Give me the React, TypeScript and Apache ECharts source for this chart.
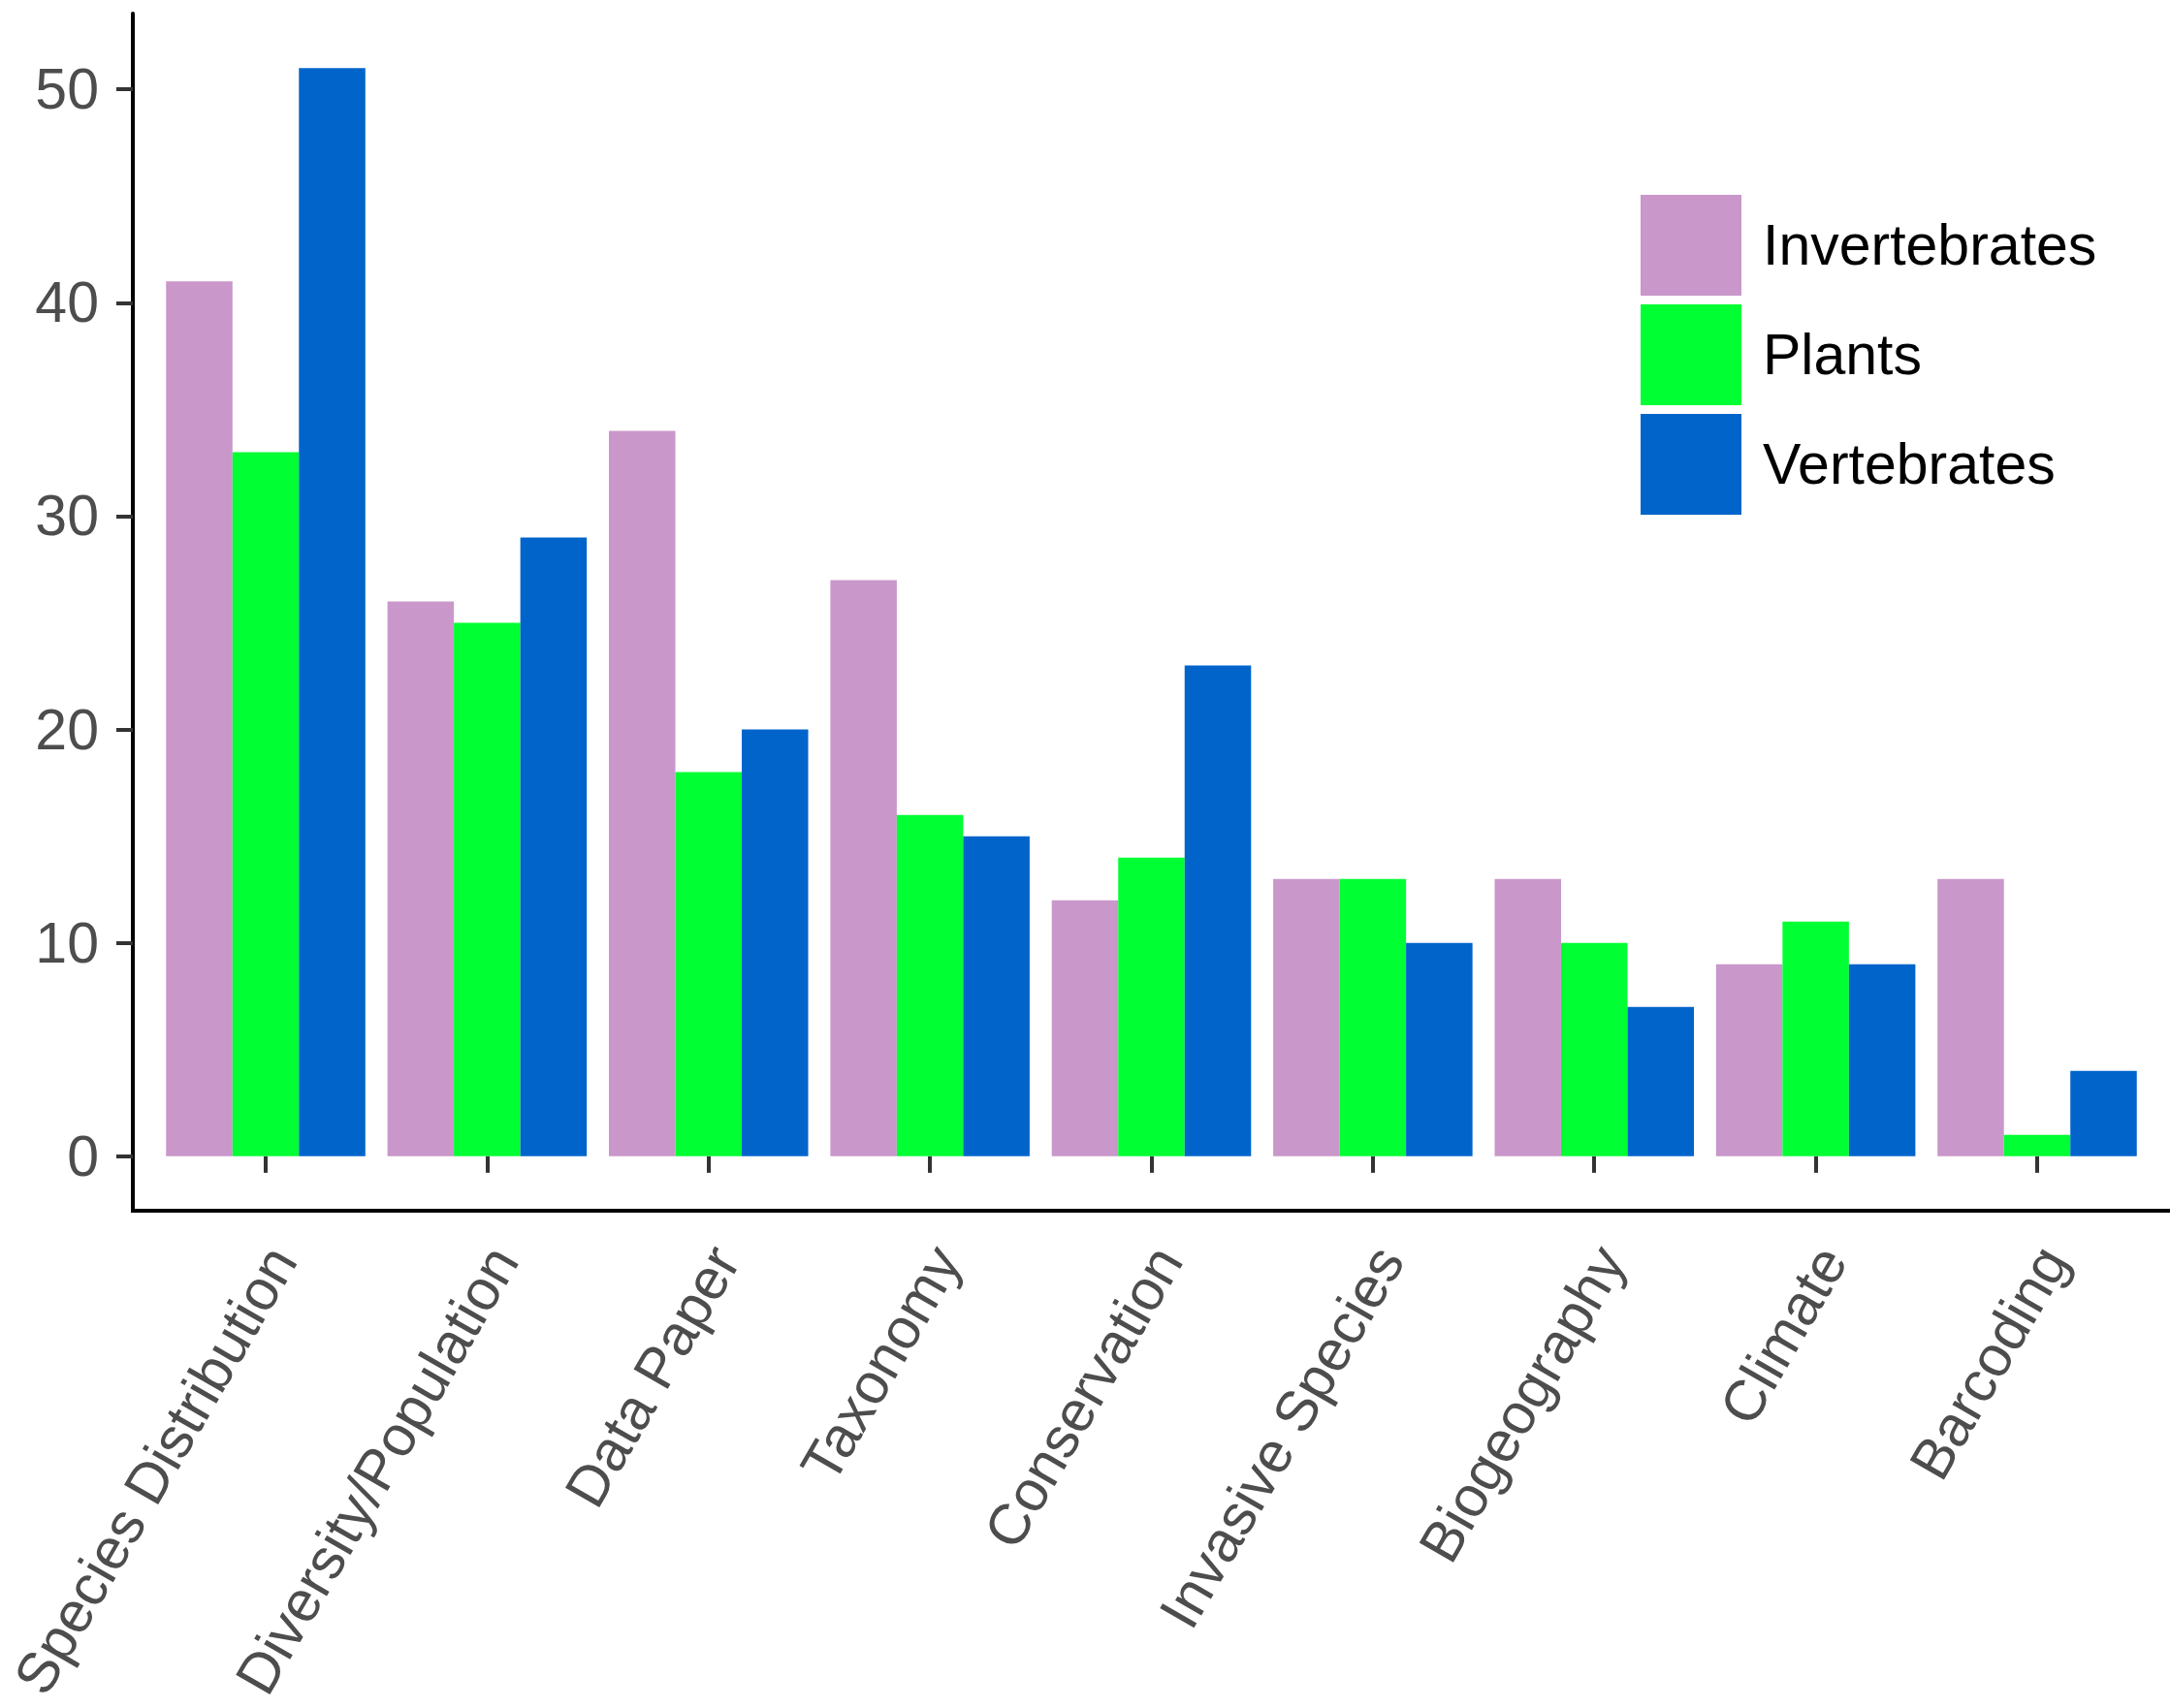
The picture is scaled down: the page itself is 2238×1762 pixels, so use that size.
import React, { useEffect, useRef } from "react";
import * as echarts from "echarts";

const categories = [
  "Species Distribution",
  "Diversity/Population",
  "Data Paper",
  "Taxonomy",
  "Conservation",
  "Invasive Species",
  "Biogeography",
  "Climate",
  "Barcoding",
];

const invertebrates = [41, 26, 34, 27, 12, 13, 13, 9, 13];
const plants = [33, 25, 18, 16, 14, 13, 10, 11, 1];
const vertebrates = [51, 29, 20, 15, 23, 10, 7, 9, 4];

const yTicks = [0, 10, 20, 30, 40, 50];

const W = 2238;
const H = 1762;

// ggplot-style axis layout: discrete axis expanded by 0.6 band on each side,
// continuous axis expanded by 5% of the data range.
const AXIS_LEFT = 137;
const AXIS_BOTTOM = 1249;
const PLOT_TOP = 14;
const BAND = (W - AXIS_LEFT) / (categories.length + 0.2);
const PAD = BAND * 0.1;
const yMaxData = Math.max(...invertebrates, ...plants, ...vertebrates);
const yExpand = yMaxData * 0.05;

const FONT = "'Liberation Sans', Arial, Helvetica, sans-serif";
const LINE_W = 4;

export default function App() {
  const ref = useRef<HTMLDivElement>(null);

  useEffect(() => {
    document.body.style.margin = "0";
    document.body.style.overflow = "hidden";
    if (!ref.current) return;
    const chart = echarts.init(ref.current, undefined, { renderer: "svg" });

    const barSeries = (name: string, data: number[], color: string) => ({
      name,
      type: "bar",
      data,
      barGap: "0%",
      barCategoryGap: "10%",
      itemStyle: { color },
      emphasis: { disabled: true },
    });

    chart.setOption({
      animation: false,
      backgroundColor: "#ffffff",
      textStyle: { fontFamily: FONT },
      grid: {
        left: AXIS_LEFT + PAD,
        right: PAD,
        top: PLOT_TOP,
        bottom: H - AXIS_BOTTOM,
        containLabel: false,
        outerBoundsMode: "none",
      },
      legend: {
        orient: "vertical",
        left: 1687,
        top: 196,
        itemWidth: 104,
        itemHeight: 104,
        itemGap: 9,
        icon: "rect",
        selectedMode: false,
        textStyle: {
          fontFamily: FONT,
          fontSize: 59,
          color: "#000000",
          padding: [0, 0, 0, 17],
        },
        data: ["Invertebrates", "Plants", "Vertebrates"],
      },
      xAxis: {
        type: "category",
        data: categories,
        axisLine: { show: false },
        axisTick: {
          show: true,
          alignWithLabel: true,
          length: 17,
          lineStyle: { color: "#333333", width: LINE_W },
        },
        axisLabel: {
          interval: 0,
          rotate: 60,
          margin: 32,
          align: "right",
          verticalAlign: "top",
          lineHeight: 39,
          fontSize: 59,
          color: "#4D4D4D",
          fontFamily: FONT,
        },
        splitLine: { show: false },
      },
      yAxis: {
        type: "value",
        min: -yExpand,
        max: yMaxData + yExpand,
        offset: PAD,
        axisLine: {
          show: true,
          lineStyle: { color: "#000000", width: LINE_W },
        },
        axisTick: {
          show: true,
          length: 17,
          customValues: yTicks,
          lineStyle: { color: "#333333", width: LINE_W },
        },
        axisLabel: {
          customValues: yTicks,
          margin: 35,
          fontSize: 59,
          color: "#4D4D4D",
          fontFamily: FONT,
        },
        splitLine: { show: false },
      },
      graphic: [
        {
          type: "line",
          shape: {
            x1: AXIS_LEFT - LINE_W / 2,
            y1: AXIS_BOTTOM,
            x2: W,
            y2: AXIS_BOTTOM,
          },
          style: { stroke: "#000000", lineWidth: LINE_W },
          silent: true,
        },
      ],
      series: [
        barSeries("Invertebrates", invertebrates, "#CA97CA"),
        barSeries("Plants", plants, "#00FF33"),
        barSeries("Vertebrates", vertebrates, "#0064CB"),
      ],
    });

    return () => chart.dispose();
  }, []);

  return <div ref={ref} style={{ width: W, height: H }} />;
}
